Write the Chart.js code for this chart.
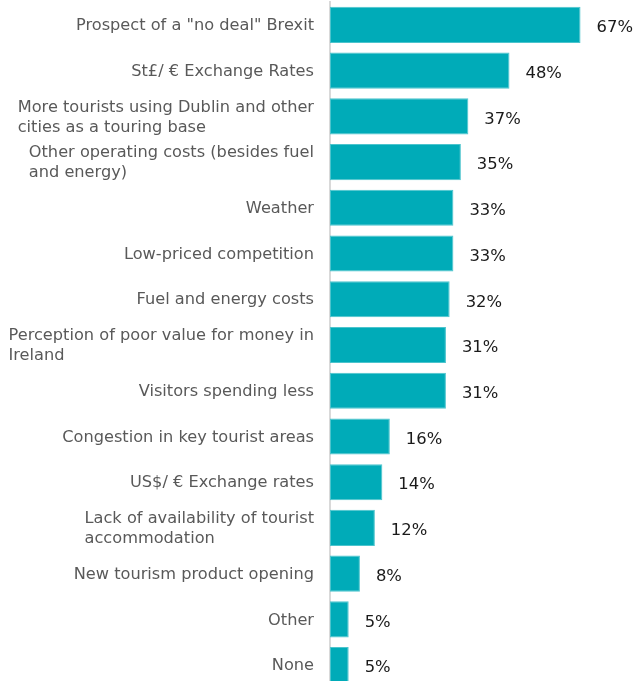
<!DOCTYPE html>
<html>
<head>
<meta charset="utf-8">
<script src="https://cdn.jsdelivr.net/npm/chart.js@4/dist/chart.umd.min.js"></script>
<style>
  html, body { margin: 0; padding: 0; background: #fff; overflow: hidden; }
  #wrap { width: 634px; height: 688px; position: relative; }
</style>
</head>
<body>
<div id="wrap"><canvas id="c"></canvas></div>
<script>
const categories = [
  ['Prospect of a "no deal" Brexit'],
  ['St£/ € Exchange Rates'],
  ['More tourists using Dublin and other', 'cities as a touring base'],
  ['Other operating costs (besides fuel', 'and energy)'],
  ['Weather'],
  ['Low-priced competition'],
  ['Fuel and energy costs'],
  ['Perception of poor value for money in', 'Ireland'],
  ['Visitors spending less'],
  ['Congestion in key tourist areas'],
  ['US$/ € Exchange rates'],
  ['Lack of availability of tourist', 'accommodation'],
  ['New tourism product opening'],
  ['Other'],
  ['None']
];
const values = [67, 48, 37, 35, 33, 33, 32, 31, 31, 16, 14, 12, 8, 5, 5];

const labelPlugin = {
  id: 'labelPlugin',
  afterDraw(chart) {
    const ctx = chart.ctx;
    const y = chart.scales.y;
    const area = chart.chartArea;
    ctx.save();
    // category labels: block right-aligned, lines left-aligned
    ctx.font = '16.2px "DejaVu Sans"';
    ctx.fillStyle = '#595959';
    ctx.textBaseline = 'middle';
    ctx.textAlign = 'left';
    categories.forEach((lines, i) => {
      const cy = y.getPixelForValue(i) + 1;
      const maxW = Math.max(...lines.map(l => ctx.measureText(l).width));
      const x0 = area.left - 16 - maxW;
      const lh = 20;
      const y0 = cy - (lines.length - 1) * lh / 2;
      lines.forEach((l, k) => ctx.fillText(l, x0, y0 + k * lh));
    });
    // value labels
    ctx.font = '16.4px "DejaVu Sans"';
    ctx.fillStyle = '#1a1a1a';
    const meta = chart.getDatasetMeta(0);
    meta.data.forEach((bar, i) => {
      ctx.fillText(values[i] + '%', bar.x + 16, bar.y + 3);
    });
    ctx.restore();
  }
};

new Chart(document.getElementById('c'), {
  type: 'bar',
  data: {
    labels: categories,
    datasets: [{
      data: values,
      backgroundColor: '#00abb8',
      borderColor: '#4cc4cd',
      borderWidth: 1,
      borderSkipped: false,
      barPercentage: 0.79,
      categoryPercentage: 1
    }]
  },
  options: {
    indexAxis: 'y',
    responsive: true,
    maintainAspectRatio: false,
    animation: false,
    layout: { padding: { top: 2, bottom: 0, left: 0, right: 0 } },
    plugins: { legend: { display: false }, tooltip: { enabled: false } },
    scales: {
      x: { display: false, min: 0, max: 81.3 },
      y: {
        grid: { display: false, drawTicks: false },
        border: { display: true, color: '#d9d9d9', width: 2 },
        ticks: { display: false },
        afterFit(scale) { scale.width = 330; }
      }
    }
  },
  plugins: [labelPlugin]
});
</script>
</body>
</html>
